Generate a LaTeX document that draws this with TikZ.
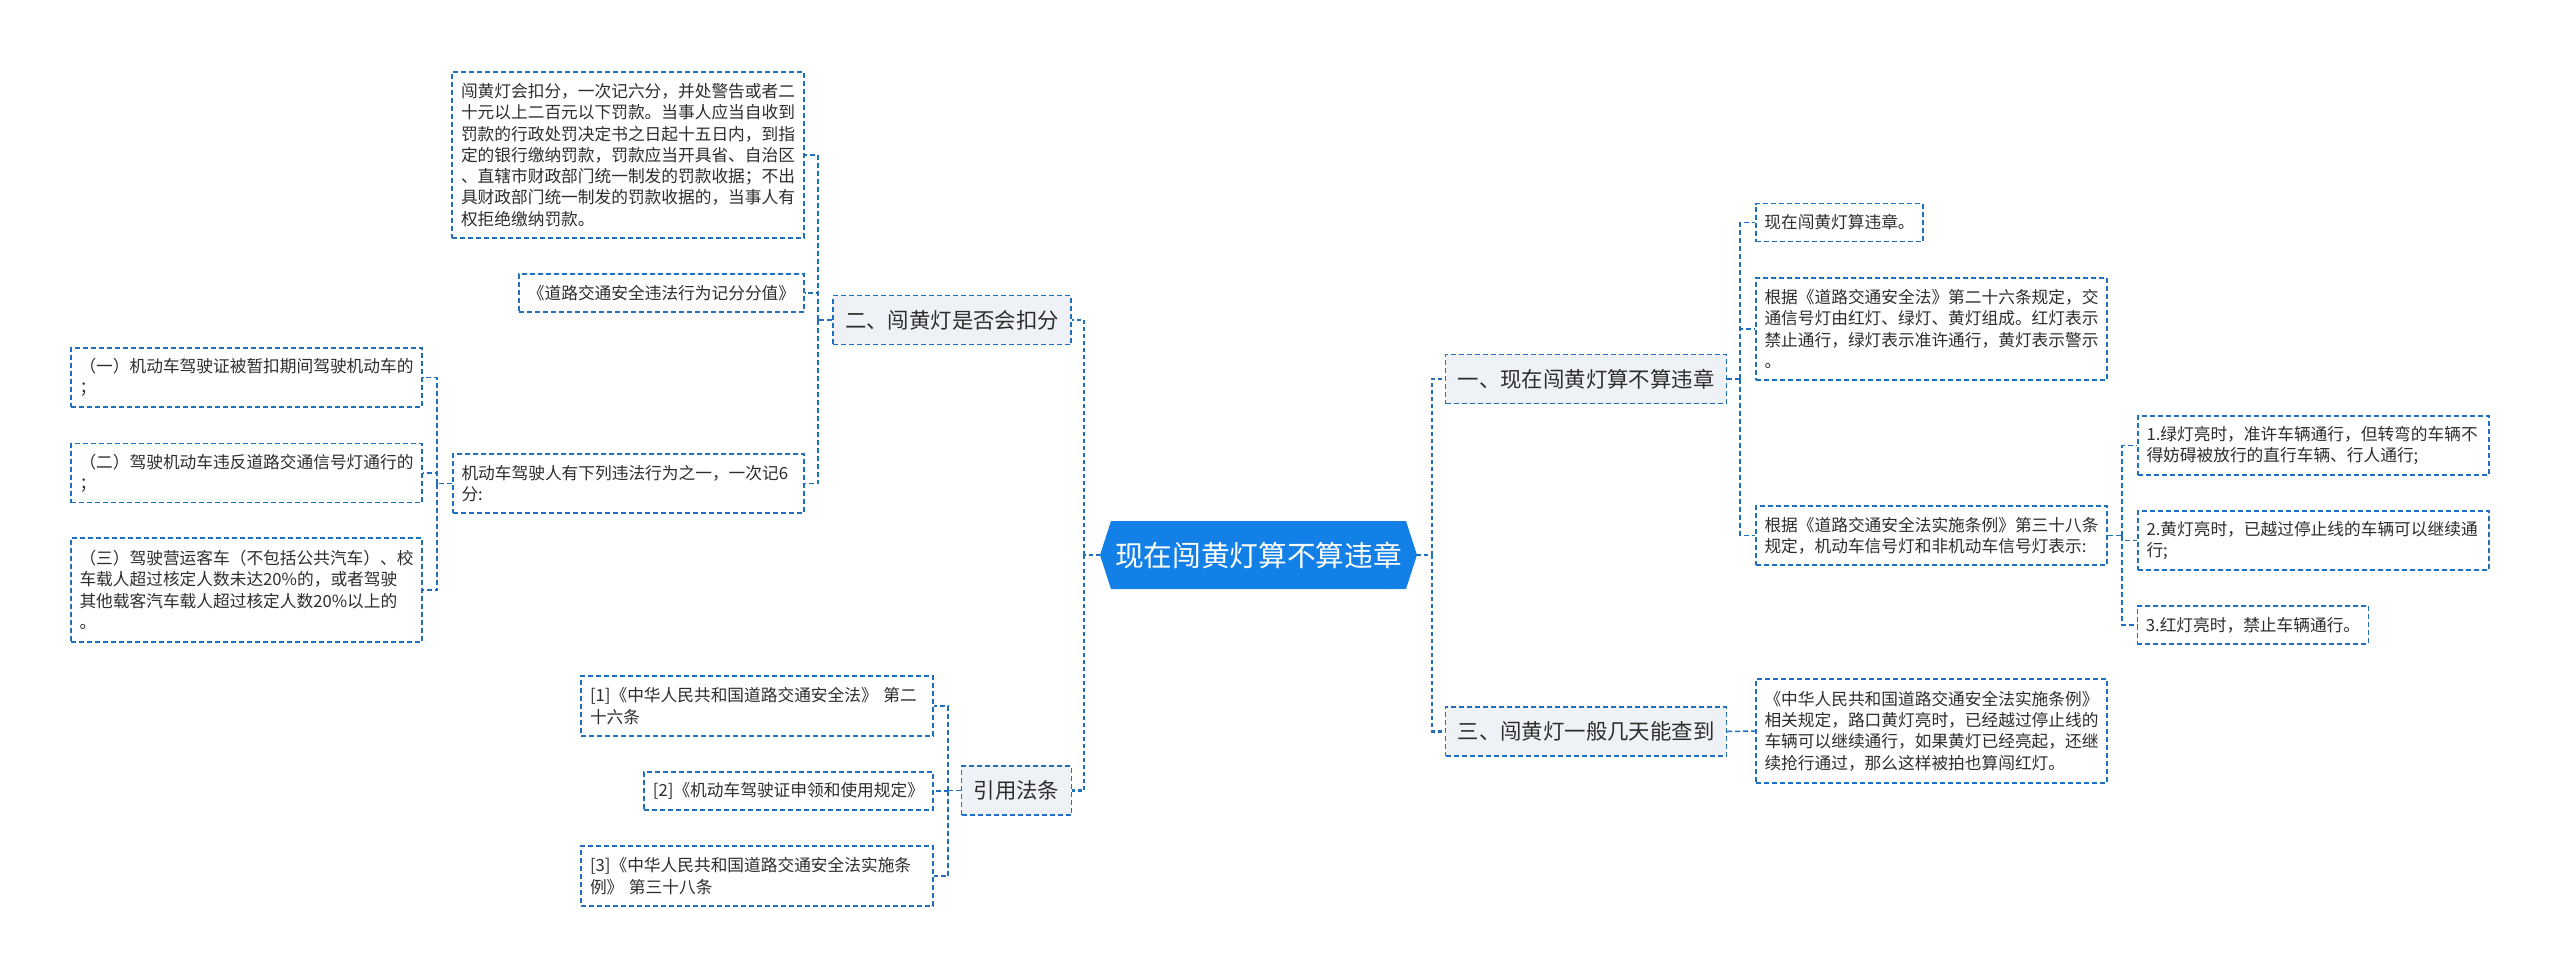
\documentclass[tikz,border=0pt]{standalone}
\usepackage{fontspec}
\setmainfont{Noto Sans CJK SC}
\definecolor{lineblue}{RGB}{32,110,190}
\definecolor{rootblue}{RGB}{18,128,230}
\definecolor{lonefill}{RGB}{238,241,245}
\definecolor{txt}{RGB}{45,45,45}
\newcommand{\leaffont}{\fontsize{16.7}{21.3}\selectfont}
\newcommand{\lonefont}{\fontsize{21.4}{26}\selectfont}
\newcommand{\rootfont}{\fontsize{28.7}{34}\selectfont}
\begin{document}
\begin{tikzpicture}[x=1pt,y=-1pt,
 box/.style={draw=lineblue, dash pattern=on 5pt off 3pt, line width=1.5pt, text=txt, inner xsep=8.5pt, inner ysep=0pt},
 leaf/.style={box, fill=white, font=\leaffont, align=left, minimum height=38pt},
 wide/.style={leaf, minimum width=351pt, text width=334pt},
 lone/.style={box, fill=lonefill, font=\lonefont, minimum height=49pt, inner xsep=12pt},
 conn/.style={draw=lineblue, dash pattern=on 5pt off 3pt, line width=1.5pt},
 mainconn/.style={conn, dash pattern=on 4pt off 3pt, line width=2.2pt}]
\useasboundingbox[fill=white] (0,0) rectangle (2560,977);

% root
\node[font=\rootfont, text=white, minimum width=317pt, minimum height=68pt, inner sep=0pt,
 path picture={\fill[rootblue] (path picture bounding box.west) -- ([xshift=11pt]path picture bounding box.north west) -- ([xshift=-11pt]path picture bounding box.north east) -- (path picture bounding box.east) -- ([xshift=-11pt]path picture bounding box.south east) -- ([xshift=11pt]path picture bounding box.south west) -- cycle;}]
 (root) at (1258.5,555) {现在闯黄灯算不算违章};

% level 1
\node[lone, minimum width=280pt] (one) at (1586,379) {一、现在闯黄灯算不算违章};
\node[lone, minimum width=280pt] (three) at (1586,731.5) {三、闯黄灯一般几天能查到};
\node[lone, minimum width=236pt] (two) at (952,320) {二、闯黄灯是否会扣分};
\node[lone, minimum width=107pt] (yin) at (1016.5,790.5) {引用法条};

% right leaves
\node[leaf, minimum width=167pt] (r1) at (1839.5,222.5) {现在闯黄灯算违章。};
\node[wide, minimum height=102pt] (r2) at (1931.5,329) {根据《道路交通安全法》第二十六条规定，交\\通信号灯由红灯、绿灯、黄灯组成。红灯表示\\禁止通行，绿灯表示准许通行，黄灯表示警示\\。};
\node[wide, minimum height=59pt] (r3) at (1931.5,535.5) {根据《道路交通安全法实施条例》第三十八条\\规定，机动车信号灯和非机动车信号灯表示:};
\node[wide, minimum height=104pt] (r4) at (1931.5,731) {《中华人民共和国道路交通安全法实施条例》\\相关规定，路口黄灯亮时，已经越过停止线的\\车辆可以继续通行，如果黄灯已经亮起，还继\\续抢行通过，那么这样被拍也算闯红灯。};

% level 3
\node[wide, minimum height=59pt] (g1) at (2313.5,445.5) {1.绿灯亮时，准许车辆通行，但转弯的车辆不\\得妨碍被放行的直行车辆、行人通行;};
\node[wide, minimum height=59pt] (g2) at (2313.5,540.5) {2.黄灯亮时，已越过停止线的车辆可以继续通\\行;};
\node[leaf, minimum width=230pt] (g3) at (2253,625) {3.红灯亮时，禁止车辆通行。};

% left leaves under two
\node[wide, minimum width=352pt, minimum height=166pt] (p1) at (628,155) {闯黄灯会扣分，一次记六分，并处警告或者二\\十元以上二百元以下罚款。当事人应当自收到\\罚款的行政处罚决定书之日起十五日内，到指\\定的银行缴纳罚款，罚款应当开具省、自治区\\、直辖市财政部门统一制发的罚款收据；不出\\具财政部门统一制发的罚款收据的，当事人有\\权拒绝缴纳罚款。};
\node[leaf, minimum width=285pt] (p2) at (661.5,293) {《道路交通安全违法行为记分分值》};
\node[wide, minimum height=59pt] (p3) at (628.5,483.5) {机动车驾驶人有下列违法行为之一，一次记6\\分:};

\node[wide, minimum height=59pt] (a1) at (246.5,377.5) {（一）机动车驾驶证被暂扣期间驾驶机动车的\\；};
\node[wide, minimum height=59pt] (a2) at (246.5,473) {（二）驾驶机动车违反道路交通信号灯通行的\\；};
\node[wide, minimum height=104pt] (a3) at (246.5,590) {（三）驾驶营运客车（不包括公共汽车）、校\\车载人超过核定人数未达20\%的，或者驾驶\\其他载客汽车载人超过核定人数20\%以上的\\。};

% citations
\node[wide, minimum width=352pt, minimum height=60pt] (c1) at (757,706) {{[1]}《中华人民共和国道路交通安全法》 第二\\十六条};
\node[leaf, minimum width=289pt] (c2) at (788.5,791) {{[2]}《机动车驾驶证申领和使用规定》};
\node[wide, minimum width=352pt, minimum height=60pt] (c3) at (757,876) {{[3]}《中华人民共和国道路交通安全法实施条\\例》 第三十八条};

% junction points
\coordinate (tl) at (1084,555);
\coordinate (tr) at (1432,555);
\coordinate (t1) at (1740,379);
\coordinate (t3) at (2122,535.5);
\coordinate (t2) at (818,320);
\coordinate (t4) at (437,483.5);
\coordinate (t5) at (948,790.5);

% connectors
\draw[mainconn] (root.west) -- (tl);
\draw[mainconn] (tl) |- (two.east);
\draw[mainconn] (tl) |- (yin.east);
\draw[mainconn] (root.east) -- (tr);
\draw[mainconn] (tr) |- (one.west);
\draw[mainconn] (tr) |- (three.west);

\draw[conn] (one.east) -- (t1);
\draw[conn] (t1) |- (r1.west);
\draw[conn] (t1) |- (r2.west);
\draw[conn] (t1) |- (r3.west);
\draw[conn] (three.east) -- (r4.west);

\draw[conn] (r3.east) -- (t3);
\draw[conn] (t3) |- (g1.west);
\draw[conn] (t3) |- (g2.west);
\draw[conn] (t3) |- (g3.west);

\draw[conn] (two.west) -- (t2);
\draw[conn] (t2) |- (p1.east);
\draw[conn] (t2) |- (p2.east);
\draw[conn] (t2) |- (p3.east);

\draw[conn] (p3.west) -- (t4);
\draw[conn] (t4) |- (a1.east);
\draw[conn] (t4) |- (a2.east);
\draw[conn] (t4) |- (a3.east);

\draw[conn] (yin.west) -- (t5);
\draw[conn] (t5) |- (c1.east);
\draw[conn] (t5) |- (c2.east);
\draw[conn] (t5) |- (c3.east);
\end{tikzpicture}
\end{document}
